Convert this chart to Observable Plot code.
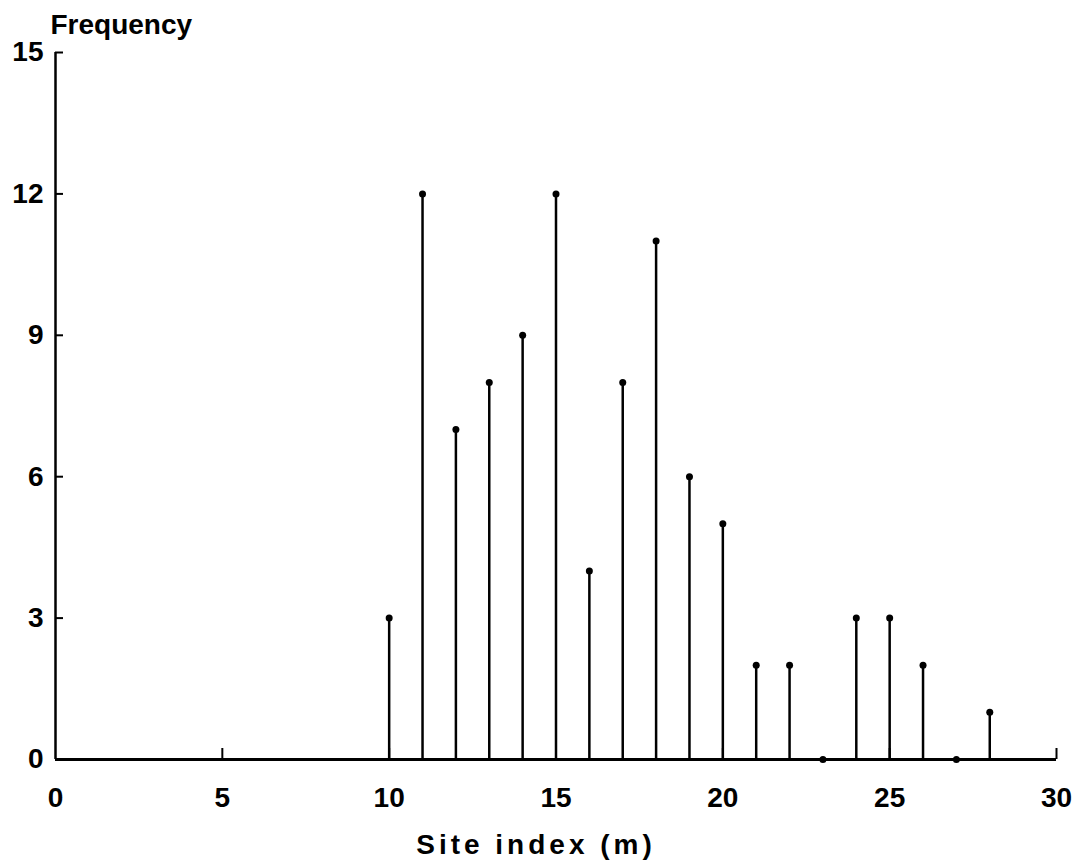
<!DOCTYPE html>
<html>
<head>
<meta charset="utf-8">
<script src="https://cdn.jsdelivr.net/npm/d3@7"></script>
<script src="https://cdn.jsdelivr.net/npm/@observablehq/plot@0.6"></script>
<style>
  html, body { margin: 0; padding: 0; background: #fff; }
  .xtitle { letter-spacing: 4px; }
</style>
</head>
<body>
<div id="chart"></div>
<script>
const siteIndex = [10, 11, 12, 13, 14, 15, 16, 17, 18, 19, 20, 21, 22, 23, 24, 25, 26, 27, 28];
const frequency = [3, 12, 7, 8, 9, 12, 4, 8, 11, 6, 5, 2, 2, 0, 3, 3, 2, 0, 1];
const xTicks = [0, 5, 10, 15, 20, 25, 30];
const yTicks = [0, 3, 6, 9, 12, 15];
const yTitle = "Frequency";
const xTitle = "Site index (m)";

const data = siteIndex.map((s, i) => ({site: s, freq: frequency[i]}));

const chart = Plot.plot({
  width: 1076,
  height: 868,
  marginLeft: 55,
  marginRight: 20,
  marginTop: 52,
  marginBottom: 109,
  style: {fontFamily: "'Liberation Sans', Arial, sans-serif", fontSize: "28px", fontWeight: "bold", background: "#fff", color: "#000"},
  x: {domain: [0, 30]},
  y: {domain: [0, 15]},
  marks: [
    Plot.axisX({ticks: xTicks, tickSize: 0, tickPadding: 28, label: null}),
    Plot.axisY({ticks: yTicks, tickSize: 0, tickPadding: 12, label: null}),
    Plot.axisX({ticks: xTicks.filter(d => d > 0), tickSize: 11, dy: -11, tickFormat: () => "", label: null, strokeWidth: 2}),
    Plot.axisY({ticks: yTicks.filter(d => d > 0), tickSize: 8, dx: 8, tickFormat: () => "", label: null, strokeWidth: 2}),
    Plot.ruleX([0], {stroke: "#000", strokeWidth: 2.5}),
    Plot.ruleY([0], {stroke: "#000", strokeWidth: 3}),
    Plot.ruleX(data, {x: "site", y1: 0, y2: "freq", stroke: "#000", strokeWidth: 2.5}),
    Plot.dot(data, {x: "site", y: "freq", r: 3.5, fill: "#000", stroke: "none"}),
    Plot.text([yTitle], {frameAnchor: "top-left", textAnchor: "start", lineAnchor: "bottom", dx: -5, dy: -19, fontSize: 28, fontWeight: "bold"}),
    Plot.text([xTitle], {frameAnchor: "bottom", lineAnchor: "bottom", dx: -20, dy: 94, fontSize: 28, fontWeight: "bold", className: "xtitle"})
  ]
});
document.getElementById("chart").appendChild(chart);
</script>
</body>
</html>
